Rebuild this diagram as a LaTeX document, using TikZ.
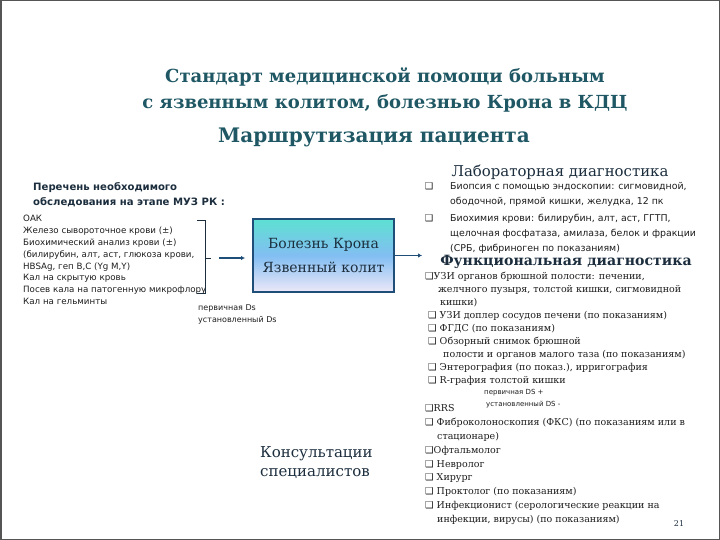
\documentclass[tikz,border=0pt]{standalone}
\usepackage{fontspec}
\setmainfont{DejaVu Serif}
\setsansfont{DejaVu Sans}
\newfontfamily\dvsans{DejaVu Sans}
\usetikzlibrary{arrows.meta}
\definecolor{titlec}{HTML}{1F5864}
\definecolor{headc}{HTML}{1C2E3E}
\definecolor{bodyc}{HTML}{1E1E1E}
\definecolor{boxborder}{HTML}{1F4E79}
\definecolor{boxtop}{HTML}{5EE0D2}
\definecolor{boxmid}{HTML}{82BEF2}
\definecolor{boxbot}{HTML}{EEE8F8}
\definecolor{framec}{HTML}{555555}
\newcommand{\bq}{{\dvsans ❑}}
\begin{document}
\begin{tikzpicture}[x=1pt,y=-1pt,
  txt/.style={inner sep=0pt, anchor=north west, align=left, text=bodyc},
  heading/.style={inner sep=0pt, text=headc},
  arr/.style={draw=boxborder, line width=1.6pt, -{Latex[length=4pt,width=4.5pt]}},
  bracec/.style={draw=headc, line width=0.9pt},
  mainbox/.style={draw=boxborder, line width=2pt, top color=boxtop, bottom color=boxbot, middle color=boxmid,
    minimum width=141pt, minimum height=73pt, align=center, text=headc,
    font=\fontsize{14}{24}\selectfont}]
\useasboundingbox (0,0) rectangle (720,540);
\fill[white] (0,0) rectangle (720,540);
\draw[framec, line width=1.5pt] (0.75,0.75) rectangle (719.25,539.25);

% titles
\node[inner sep=0pt, align=center, text=titlec, font=\bfseries\fontsize{18}{26}\selectfont] (title) at (385,90.5)
  {Стандарт медицинской помощи больным\\с язвенным колитом, болезнью Крона в  КДЦ};
\node[inner sep=0pt, text=titlec, font=\bfseries\fontsize{20}{26}\selectfont] (route) at (374,137) {Маршрутизация пациента};

% left block
\node[txt, text=headc, font=\sffamily\bfseries\fontsize{10.1}{15}\selectfont] (lhead) at (33,182.4)
  {Перечень необходимого\\обследования на этапе МУЗ РК :};
\node[txt, font=\sffamily\fontsize{8.7}{11.9}\selectfont] (llist) at (23,214.8)
  {ОАК\\Железо сывороточное крови (±)\\Биохимический анализ крови (±)\\(билирубин, алт, аст, глюкоза крови,\\HBSAg, геп В,С (Yg M,Y)\\Кал на скрытую кровь\\Посев кала на патогенную микрофлору\\Кал на гельминты};
\node[txt, font=\sffamily\fontsize{8}{12}\selectfont] (ds1) at (198,304.2)
  {первичная Ds\\установленный Ds};

% brace
\coordinate (bt) at (197,220);
\coordinate (bb) at (197,293);
\coordinate (bm) at (205,258);
\coordinate (btip) at (211,258);
\draw[bracec] (bt) -- (bt -| bm) -- (bb -| bm) -- (bb);
\draw[bracec] (bm) -- (btip);

% main box
\node[mainbox] (main) at (323.5,255.5) {Болезнь Крона\\Язвенный колит};
\draw[arr, shorten <=8pt, shorten >=7pt] (btip) -- (btip -| main.west);
\coordinate (fd) at (422,255.5);
\draw[arr] (main.east) -- (fd);

% consultations heading
\node[txt, text=headc, font=\fontsize{15}{19}\selectfont] (consh) at (260,446.5) {Консультации\\специалистов};

% lab diagnostics
\node[heading, font=\fontsize{14.9}{18}\selectfont] (labh) at (560,172) {Лабораторная диагностика};
\node[txt, font=\sffamily\fontsize{9.4}{15}\selectfont] (lab1) at (450,182.6)
  {\llap{\bq\hspace{17pt}}Биопсия с помощью эндоскопии: сигмовидной,\\ободочной, прямой кишки, желудка, 12 пк};
\node[txt, font=\sffamily\fontsize{9.4}{15}\selectfont] (lab2) at (450,213.6)
  {\llap{\bq\hspace{17pt}}Биохимия крови: билирубин, алт,  аст, ГГТП,\\щелочная фосфатаза,  амилаза, белок и фракции\\(СРБ, фибриноген по показаниям)};

% functional diagnostics
\node[heading, font=\bfseries\fontsize{14.1}{18}\selectfont] (funh) at (566,262) {Функциональная диагностика};
\node[txt, font=\fontsize{9.5}{13.1}\selectfont] (fun) at (425,271.6)
  {\bq УЗИ органов брюшной полости: печении,\\
   \hspace*{13pt}желчного пузыря, толстой кишки, сигмовидной\\
   \hspace*{15pt}кишки)\\
   \hspace*{3pt}\bq{} УЗИ доплер сосудов печени (по показаниям)\\
   \hspace*{3pt}\bq{} ФГДС (по показаниям)\\
   \hspace*{3pt}\bq{}  Обзорный снимок брюшной\\
   \hspace*{18pt}полости и органов малого таза (по показаниям)\\
   \hspace*{3pt}\bq{} Энтерография (по показ.), ирригография\\
   \hspace*{3pt}\bq{} R-графия толстой кишки};
\node[txt, font=\sffamily\fontsize{7}{12}\selectfont] (ds2) at (484,389.5)
  {первичная DS  +\\\hspace*{2pt}установленный DS -};

% consultations list
\node[txt, font=\fontsize{9.5}{13.8}\selectfont] (cons) at (425,404.6)
  {\bq RRS\\
   \bq{} Фиброколоноскопия (ФКС) (по показаниям или в\\
   \hspace*{12pt}стационаре)\\
   \bq Офтальмолог\\
   \bq{} Невролог\\
   \bq{} Хирург\\
   \bq{}  Проктолог (по показаниям)\\
   \bq{} Инфекционист (серологические реакции на\\
   \hspace*{12pt}инфекции, вирусы) (по показаниям)};
\node[inner sep=0pt, text=headc, font=\fontsize{8}{10}\selectfont] (pg) at (679,524) {21};
\end{tikzpicture}
\end{document}
